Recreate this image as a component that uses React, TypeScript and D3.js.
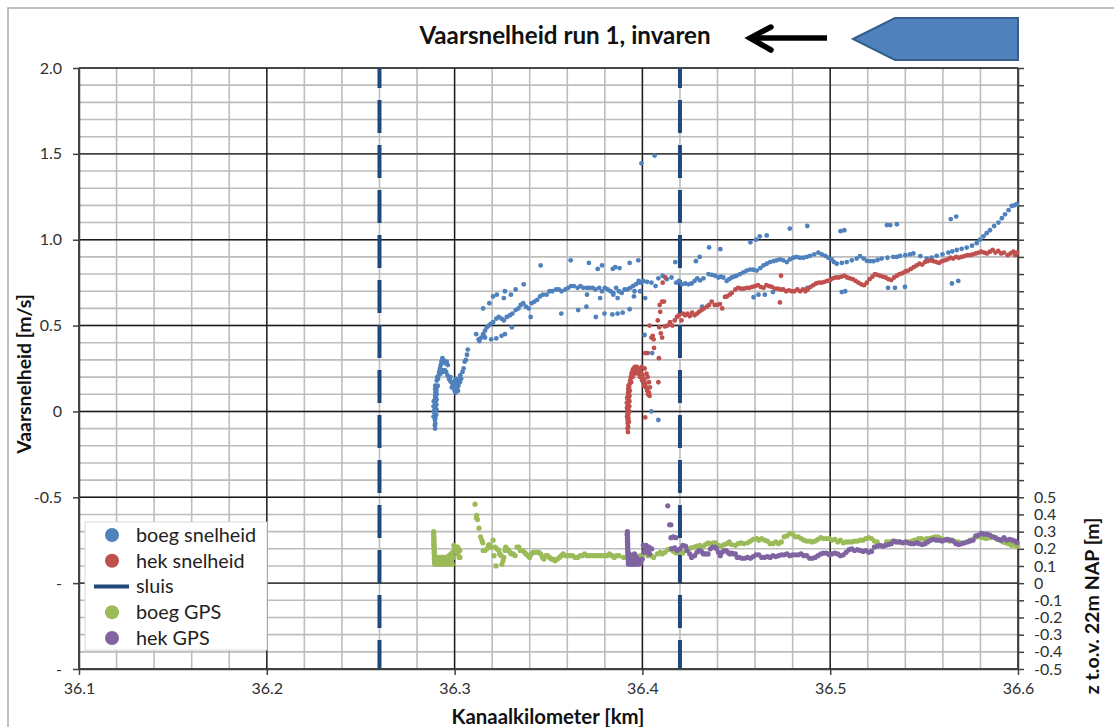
import { useEffect, useRef } from "react"
import * as d3 from "d3"

type Pt = [number, number]

const xTicks = [36.1, 36.2, 36.3, 36.4, 36.5, 36.6]
const leftLabels: [number, string][] = [[2, "2.0"], [1.5, "1.5"], [1, "1.0"], [0.5, "0.5"], [0, "0"], [-0.5, "-0.5"], [-1, "-"], [-1.5, "-"]]
const rightLabels = [0.5, 0.4, 0.3, 0.2, 0.1, 0, -0.1, -0.2, -0.3, -0.4, -0.5]
const sluis = [36.26, 36.42]
const legendItems = ["boeg snelheid", "hek snelheid", "sluis", "boeg GPS", "hek GPS"]

const boegSnelheid: Pt[] = [
  // start at the lock
  [36.2896,-0.1],[36.2895,-0.08],[36.2897,-0.07],[36.2895,-0.05],[36.2897,-0.04],[36.2894,-0.03],[36.2897,-0.02],[36.2895,-0.01],[36.2898,0],[36.2894,0.01],[36.2897,0.02],[36.2895,0.03],[36.2898,0.04],[36.2895,0.05],[36.2899,0.06],[36.2896,0.07],[36.29,0.08],[36.2897,0.09],[36.2901,0.1],[36.2898,0.11],[36.2903,0.12],[36.2896,0.13],[36.2905,0.14],[36.2897,0.15],[36.291,0.15],[36.2912,0.19],[36.2915,0.21],[36.2918,0.23],[36.2922,0.25],[36.2926,0.27],[36.293,0.29],[36.2935,0.31],[36.294,0.3],[36.2945,0.29],[36.295,0.28],[36.2958,0.29],[36.2964,0.27],[36.2925,0.22],[36.2932,0.24],[36.294,0.23],[36.2948,0.24],[36.2955,0.23],[36.2962,0.21],[36.297,0.19],[36.2975,0.18],[36.2982,0.17],[36.299,0.16],[36.2995,0.14],[36.3,0.12],[36.3005,0.11],[36.301,0.12],[36.3015,0.14],[36.3002,0.18],[36.3008,0.19],[36.3014,0.17],[36.302,0.15],[36.3024,0.19],[36.303,0.21],[36.3035,0.19],[36.3042,0.23],[36.3048,0.25],[36.3054,0.29],[36.306,0.3],[36.3066,0.33],[36.307,0.36],
  [36.2888,-0.03],[36.2889,0],[36.2888,0.03],[36.2889,0.06],[36.2904,0.01],[36.2903,0.04],[36.2904,0.07],[36.2904,0.1],[36.2902,-0.02],[36.2905,0.18],[36.2908,0.2],[36.2999,0.16],[36.3003,0.14],[36.3012,0.16],[36.2978,0.2],[36.2985,0.14],[36.3018,0.12],[36.3028,0.17],
  // rising chain
  [36.3128,0.42],[36.3142,0.43],[36.3152,0.45],[36.3162,0.47],[36.3172,0.49],[36.3182,0.5],[36.3192,0.51],[36.3205,0.52],[36.3222,0.54],[36.3235,0.55],[36.325,0.54],[36.3262,0.53],[36.3278,0.55],[36.3295,0.56],[36.3308,0.57],[36.3325,0.59],[36.334,0.6],[36.3352,0.62],[36.3365,0.63],[36.338,0.61],[36.3395,0.6],[36.341,0.63],[36.3425,0.64],[36.344,0.65],[36.3455,0.67],[36.347,0.68],[36.349,0.68],[36.3505,0.7],[36.352,0.7],[36.354,0.71],[36.3555,0.71],[36.357,0.7],[36.359,0.71],[36.3605,0.72],[36.362,0.73],[36.3635,0.73],[36.3655,0.72],[36.367,0.73],[36.3685,0.72],[36.3705,0.72],[36.372,0.72],[36.3735,0.72],[36.375,0.71],[36.377,0.72],[36.3785,0.7],[36.38,0.72],[36.3815,0.71],[36.383,0.7],[36.3845,0.69],[36.386,0.72],[36.3875,0.7],[36.389,0.69],[36.3905,0.71],[36.392,0.71],[36.3935,0.72],[36.395,0.73],[36.3965,0.74],[36.398,0.75],[36.3995,0.75],
  // upper and lower scatter
  [36.3152,0.6],[36.3185,0.63],[36.3205,0.67],[36.3225,0.68],[36.3262,0.66],[36.3268,0.7],[36.33,0.68],[36.3325,0.71],[36.3368,0.74],[36.3458,0.85],[36.3618,0.88],[36.3715,0.865],[36.3785,0.85],[36.3762,0.83],[36.3842,0.83],[36.3855,0.84],[36.3878,0.835],[36.3932,0.865],[36.3978,0.88],[36.3705,0.68],[36.3775,0.66],[36.3868,0.66],[36.3845,0.68],[36.3115,0.45],[36.3132,0.41],[36.3155,0.44],[36.3162,0.43],[36.3195,0.42],[36.3222,0.425],[36.325,0.44],[36.3268,0.45],[36.3305,0.49],[36.3405,0.55],[36.3568,0.57],[36.3658,0.59],[36.3702,0.61],[36.3752,0.55],[36.3798,0.57],[36.384,0.565],[36.3868,0.57],[36.3895,0.575],[36.3932,0.595],
  // around the second lock line
  [36.4005,0.76],[36.4025,0.755],[36.4048,0.75],[36.407,0.73],[36.4085,0.775],[36.4108,0.79],[36.413,0.77],[36.4155,0.78],[36.418,0.75],[36.4195,0.76],[36.421,0.74],[36.4228,0.745],[36.4245,0.74],[36.4262,0.745],[36.4278,0.76],[36.4292,0.775],[36.4307,0.763],[36.4325,0.775],[36.4352,0.8],[36.437,0.795],[36.4387,0.79],[36.4405,0.78],[36.4418,0.785],[36.4431,0.78],[36.4449,0.76],[36.4462,0.77],[36.4476,0.78],[36.4488,0.785],[36.4502,0.79],[36.452,0.8],[36.4538,0.81],[36.4555,0.82],[36.4573,0.826],[36.459,0.825],[36.4609,0.82],[36.4628,0.835],[36.4645,0.85],[36.4662,0.86],[36.468,0.87],[36.4698,0.875],[36.4715,0.88],[36.4733,0.885],[36.475,0.88],[36.4769,0.87],[36.4785,0.885],[36.4804,0.895],[36.482,0.9],[36.4838,0.895],[36.4857,0.895],[36.4875,0.9],[36.4893,0.906],[36.4915,0.915],[36.4937,0.925],[36.4955,0.915],[36.4973,0.906],[36.499,0.895],[36.5008,0.885],[36.502,0.87],[36.5035,0.86],[36.5062,0.865],[36.5088,0.87],[36.5115,0.88],[36.5141,0.89],[36.5159,0.904],[36.5178,0.89],[36.5195,0.877],[36.5212,0.875],[36.523,0.875],[36.5252,0.882],[36.5274,0.89],[36.5305,0.895],[36.5336,0.9],[36.5355,0.9],[36.5372,0.906],[36.54,0.91],[36.5425,0.915],[36.5443,0.92],[36.548,0.905],[36.5514,0.89],[36.554,0.895],[36.5567,0.906],[36.5598,0.915],[36.5629,0.925],[36.565,0.932],[36.5674,0.94],[36.57,0.947],[36.5727,0.954],[36.5755,0.965],[36.578,0.98],[36.5798,1.0],[36.5816,1.02],[36.5833,1.038],[36.5851,1.055],[36.5873,1.08],[36.5896,1.1],[36.5914,1.125],[36.5931,1.148],[36.595,1.172],[36.5967,1.197],[36.598,1.2],[36.5993,1.207],
  // outliers
  [36.3995,1.445],[36.4065,1.49],[36.4052,0.34],[36.4048,0],[36.4085,-0.05],[36.398,0.76],[36.3955,0.67],[36.3958,0.7],[36.3988,0.7],[36.4015,0.66],[36.4012,0.445],
  [36.4175,0.87],[36.4285,0.875],[36.4305,0.9],[36.4355,0.955],[36.4415,0.945],[36.4575,0.985],[36.4605,1.0],[36.4625,1.02],[36.4662,1.025],[36.4785,1.065],[36.4878,1.08],[36.5055,1.05],[36.5075,1.055],[36.5302,1.085],[36.532,1.085],[36.5355,1.09],[36.5642,1.12],[36.5671,1.135],
  [36.4592,0.665],[36.4618,0.68],[36.4652,0.68],[36.4695,0.695],[36.4878,0.72],[36.5062,0.695],[36.508,0.7],[36.5308,0.72],[36.5345,0.72],[36.5398,0.725],[36.5648,0.745],[36.5682,0.76],[36.4318,0.61],
]

const hekSnelheid: Pt[] = [
  [36.3923,-0.12],[36.3921,-0.1],[36.3924,-0.09],[36.3922,-0.07],[36.3924,-0.06],[36.3921,-0.05],[36.3925,-0.04],[36.3922,-0.03],[36.3924,-0.02],[36.3921,-0.01],[36.3925,0],[36.3922,0.01],[36.3925,0.02],[36.3922,0.03],[36.3925,0.04],[36.3923,0.05],[36.3926,0.06],[36.3923,0.07],[36.3926,0.08],[36.3924,0.09],[36.3927,0.1],[36.3924,0.11],[36.3928,0.12],[36.3925,0.13],[36.3929,0.14],[36.3926,0.15],[36.3932,0.16],[36.3935,0.18],[36.3938,0.2],[36.3942,0.22],[36.3946,0.23],[36.395,0.245],[36.3955,0.25],[36.396,0.26],[36.3965,0.255],[36.397,0.26],[36.3975,0.25],[36.398,0.24],[36.3985,0.245],[36.399,0.23],[36.3995,0.22],[36.4,0.21],[36.4005,0.19],[36.401,0.18],[36.4015,0.16],[36.402,0.14],[36.4025,0.12],[36.403,0.1],[36.4035,0.11],[36.4038,0.09],
  [36.3918,0.02],[36.3917,0.05],[36.3918,-0.03],[36.3919,0.08],[36.393,0.03],[36.3931,0.06],[36.3931,0.09],[36.3933,0.12],[36.393,0],[36.3928,-0.06],[36.394,0.17],[36.3948,0.2],[36.3958,0.22],[36.3968,0.235],[36.3978,0.22],[36.3988,0.2],[36.3998,0.18],[36.4008,0.15],
  [36.3996,0.26],[36.4012,0.25],[36.4022,0.22],[36.4028,0.2],[36.4035,0.17],[36.404,0.14],[36.4062,0.37],[36.4015,0.34],[36.4028,0.34],[36.4088,0.31],[36.4085,0.17],[36.4015,-0.035],
  // across the lock line
  [36.4082,0.53],[36.4095,0.58],[36.4092,0.62],[36.4105,0.64],[36.4038,0.5],[36.4048,0.43],[36.4055,0.44],[36.406,0.42],[36.4098,0.455],[36.4105,0.43],[36.409,0.49],[36.4108,0.75],[36.4122,0.78],[36.4115,0.64],[36.412,0.495],[36.4133,0.5],[36.4147,0.52],[36.416,0.5],[36.4172,0.53],[36.4184,0.55],[36.4195,0.56],[36.4208,0.53],[36.4216,0.57],[36.4227,0.56],[36.424,0.57],[36.4252,0.555],[36.4265,0.575],[36.4278,0.56],[36.4291,0.57],[36.4302,0.58],[36.4315,0.59],[36.4328,0.6],[36.4344,0.61],[36.4355,0.62],[36.4369,0.64],[36.4385,0.62],[36.4398,0.62],[36.4413,0.625],[36.4425,0.6],[36.444,0.667],[36.445,0.67],[36.4465,0.68],[36.4476,0.69],[36.4495,0.71],[36.451,0.72],[36.4525,0.715],[36.454,0.715],[36.4555,0.72],[36.457,0.72],[36.4585,0.725],[36.46,0.73],[36.4615,0.735],[36.463,0.725],[36.4645,0.72],[36.466,0.735],[36.4675,0.73],[36.469,0.725],[36.4705,0.715],[36.472,0.715],[36.4735,0.71],[36.475,0.71],[36.4765,0.7],[36.478,0.705],[36.4795,0.7],[36.481,0.7],[36.4825,0.71],[36.484,0.7],[36.4855,0.71],[36.4868,0.7],[36.488,0.71],[36.4895,0.725],[36.491,0.735],[36.4925,0.745],[36.494,0.75],[36.4955,0.75],[36.497,0.755],[36.4985,0.76],[36.5,0.765],[36.5015,0.775],[36.503,0.78],[36.5045,0.78],[36.506,0.785],[36.5075,0.79],[36.509,0.78],[36.5105,0.775],[36.512,0.77],[36.5135,0.76],[36.515,0.75],[36.5165,0.74],[36.518,0.735],[36.5195,0.75],[36.521,0.77],[36.5225,0.785],[36.5238,0.8],[36.525,0.795],[36.5265,0.79],[36.528,0.785],[36.5295,0.78],[36.531,0.77],[36.5325,0.765],[36.534,0.78],[36.5355,0.79],[36.537,0.8],[36.5385,0.805],[36.54,0.815],[36.5415,0.82],[36.543,0.83],[36.5445,0.84],[36.546,0.85],[36.5475,0.86],[36.549,0.855],[36.5505,0.87],[36.552,0.875],[36.5535,0.88],[36.555,0.875],[36.5565,0.87],[36.558,0.865],[36.5595,0.875],[36.561,0.88],[36.5625,0.885],[36.564,0.895],[36.5655,0.89],[36.567,0.9],[36.5685,0.895],[36.57,0.9],[36.5715,0.905],[36.573,0.91],[36.5745,0.91],[36.576,0.915],[36.5775,0.92],[36.579,0.925],[36.5805,0.93],[36.582,0.925],[36.5835,0.92],[36.585,0.93],[36.5865,0.94],[36.588,0.925],[36.5895,0.935],[36.591,0.92],[36.5925,0.925],
  [36.5945,0.91],[36.596,0.92],[36.5975,0.93],[36.5985,0.91],[36.5995,0.925],
  // outliers
  [36.4738,0.79],[36.4732,0.635],
]

const boegGPS: Pt[] = [
  [36.2889,0.3],[36.2889,0.29],[36.2888,0.28],[36.289,0.27],[36.2889,0.26],[36.289,0.25],[36.2889,0.24],[36.2891,0.23],[36.2889,0.22],[36.2892,0.21],[36.289,0.2],[36.2892,0.19],[36.2891,0.18],[36.2893,0.17],[36.2892,0.16],[36.2894,0.15],[36.2892,0.14],[36.2894,0.13],[36.2893,0.12],[36.2895,0.11],[36.2898,0.15],[36.29,0.12],[36.2903,0.14],[36.2905,0.11],[36.2908,0.15],[36.291,0.12],[36.2913,0.13],[36.2915,0.11],[36.2918,0.15],[36.292,0.12],[36.2923,0.14],[36.2925,0.11],[36.2928,0.15],[36.293,0.12],[36.2933,0.14],[36.2935,0.11],[36.2938,0.15],[36.294,0.12],[36.2943,0.13],[36.2946,0.11],[36.2949,0.15],[36.2952,0.12],[36.2955,0.14],[36.2958,0.11],[36.296,0.15],[36.2963,0.12],[36.2965,0.14],[36.2968,0.11],[36.297,0.16],[36.2973,0.12],[36.2975,0.15],[36.2978,0.11],[36.298,0.17],[36.2982,0.13],[36.2985,0.16],[36.2988,0.11],[36.299,0.18],[36.2993,0.15],[36.2996,0.22],[36.2998,0.2],[36.3,0.21],[36.3003,0.19],[36.3006,0.21],[36.3009,0.2],[36.3012,0.18],[36.3016,0.21],[36.3018,0.17],[36.302,0.2],[36.3024,0.15],[36.3029,0.15],[36.3028,0.19],
  [36.3109,0.46],[36.3118,0.395],[36.3116,0.38],[36.3122,0.37],[36.313,0.32],[36.3138,0.27],[36.3145,0.25],[36.315,0.235],[36.3152,0.19],[36.3162,0.19],[36.3172,0.2],[36.318,0.22],[36.3185,0.225],[36.3195,0.21],[36.3205,0.25],[36.321,0.16],[36.3215,0.21],[36.322,0.1],[36.3225,0.2],[36.3235,0.19],[36.324,0.17],[36.3248,0.16],[36.3252,0.11],[36.3258,0.13],[36.3262,0.15],[36.3268,0.19],[36.3272,0.21],[36.328,0.2],[36.3288,0.19],[36.3295,0.18],[36.3302,0.17],[36.3312,0.17],[36.3322,0.16],[36.3332,0.21],[36.3342,0.21],[36.335,0.19],[36.3362,0.19],[36.3372,0.18],[36.338,0.17],[36.339,0.16],[36.34,0.15],[36.3408,0.17],[36.3418,0.18],[36.3428,0.18],[36.3438,0.18],[36.3448,0.18],[36.3458,0.17],[36.3468,0.15],[36.3475,0.14],[36.3485,0.16],[36.3495,0.16],[36.3505,0.15],[36.3515,0.14],[36.3525,0.14],[36.3535,0.13],[36.3548,0.14],[36.3558,0.15],[36.3568,0.16],[36.3578,0.17],[36.3592,0.16],[36.3602,0.16],[36.3615,0.16],[36.3628,0.16],[36.3642,0.15],[36.3655,0.15],[36.3668,0.16],[36.368,0.16],[36.3692,0.17],[36.3705,0.16],[36.3718,0.16],[36.3732,0.16],[36.3745,0.16],[36.3758,0.16],[36.3772,0.16],[36.3785,0.16],[36.38,0.16],[36.3812,0.16],[36.3825,0.17],[36.3838,0.16],[36.385,0.15],[36.3862,0.16],[36.3875,0.16],[36.39,0.15],[36.3965,0.16],[36.399,0.16],[36.4015,0.17],[36.403,0.16],[36.4048,0.16],[36.406,0.15],[36.408,0.17],[36.4095,0.18],[36.4105,0.17],[36.412,0.18],[36.4135,0.195],[36.415,0.2],[36.4165,0.185],[36.418,0.175],[36.4195,0.18],[36.4215,0.175],[36.423,0.19],[36.4245,0.2],[36.426,0.205],[36.4275,0.21],[36.429,0.215],[36.4307,0.22],[36.4322,0.21],[36.4335,0.225],[36.435,0.235],[36.4362,0.23],[36.4378,0.235],[36.439,0.235],[36.4405,0.22],[36.442,0.215],[36.4435,0.225],[36.445,0.23],[36.4462,0.24],[36.4475,0.225],[36.4495,0.22],[36.451,0.23],[36.4525,0.235],[36.454,0.23],[36.456,0.235],[36.4575,0.245],[36.459,0.255],[36.461,0.26],[36.462,0.25],[36.4635,0.26],[36.465,0.25],[36.4665,0.245],[36.468,0.23],[36.4695,0.23],[36.471,0.24],[36.4725,0.23],[36.474,0.24],[36.4755,0.27],[36.477,0.275],[36.4785,0.29],[36.48,0.285],[36.4815,0.27],[36.483,0.27],[36.4845,0.26],[36.486,0.25],[36.4875,0.245],[36.489,0.245],[36.4905,0.24],[36.492,0.245],[36.4935,0.255],[36.495,0.265],[36.4965,0.26],[36.498,0.26],[36.4995,0.26],[36.501,0.25],[36.5025,0.255],[36.504,0.24],[36.5055,0.25],[36.507,0.235],[36.5085,0.24],[36.51,0.24],[36.5115,0.24],[36.513,0.245],[36.5145,0.245],[36.516,0.25],[36.5175,0.25],[36.519,0.26],[36.5205,0.265],[36.522,0.26],[36.5235,0.245],[36.525,0.24],[36.53,0.24],[36.5315,0.24],[36.533,0.245],[36.535,0.24],[36.537,0.24],[36.5395,0.235],[36.5415,0.24],[36.5435,0.245],[36.545,0.25],[36.547,0.26],[36.5485,0.26],[36.55,0.255],[36.5515,0.26],[36.553,0.26],[36.5545,0.265],[36.556,0.27],[36.5575,0.27],[36.559,0.26],[36.5605,0.255],[36.562,0.255],[36.5635,0.245],[36.565,0.25],[36.5665,0.24],[36.568,0.24],[36.57,0.235],[36.5975,0.24],[36.5965,0.22],
  [36.5745,0.25],[36.5765,0.26],[36.5785,0.27],[36.581,0.265],[36.583,0.26],[36.585,0.265],[36.587,0.27],[36.5888,0.255],[36.5905,0.25],[36.592,0.24],[36.5935,0.235],[36.595,0.23],[36.5962,0.225],[36.5985,0.22],[36.5998,0.215],
]

const hekGPS: Pt[] = [
  [36.392,0.3],[36.392,0.29],[36.3919,0.28],[36.3921,0.27],[36.392,0.26],[36.3921,0.25],[36.392,0.24],[36.3922,0.23],[36.3921,0.22],[36.3922,0.21],[36.3921,0.2],[36.3923,0.19],[36.3922,0.18],[36.3924,0.17],[36.3923,0.16],[36.3925,0.15],[36.3924,0.14],[36.3926,0.13],[36.3925,0.12],[36.3926,0.11],[36.393,0.17],[36.3932,0.12],[36.3935,0.15],[36.3938,0.11],[36.394,0.13],[36.3943,0.16],[36.3945,0.12],[36.3948,0.11],[36.395,0.15],[36.3953,0.13],[36.3955,0.11],[36.3958,0.17],[36.396,0.13],[36.3963,0.12],[36.3965,0.11],[36.3968,0.15],[36.397,0.12],[36.3975,0.14],[36.398,0.11],[36.3985,0.13],[36.3992,0.12],[36.4,0.14],[36.4005,0.22],[36.4008,0.18],[36.401,0.215],[36.4015,0.19],[36.402,0.22],[36.4025,0.2],[36.403,0.18],[36.4035,0.21],[36.4038,0.17],[36.4042,0.2],[36.405,0.2],
  [36.4135,0.45],[36.4152,0.34],[36.4145,0.34],[36.4152,0.265],[36.4165,0.27],[36.4178,0.265],[36.4155,0.2],[36.4172,0.205],[36.4185,0.19],[36.42,0.2],[36.4215,0.22],[36.423,0.215],[36.4238,0.19],[36.4252,0.17],[36.4262,0.15],[36.4278,0.16],[36.429,0.18],[36.43,0.19],
  [36.4307,0.19],[36.4318,0.18],[36.4325,0.17],[36.4338,0.17],[36.435,0.17],[36.4362,0.2],[36.4375,0.21],[36.4388,0.21],[36.4395,0.2],[36.4405,0.18],[36.4415,0.16],[36.4425,0.18],[36.4435,0.19],[36.4445,0.19],[36.4455,0.18],[36.4465,0.17],[36.4475,0.175],[36.4485,0.17],[36.4495,0.17],[36.4505,0.15],[36.4515,0.15],[36.453,0.145],[36.4545,0.145],[36.456,0.15],[36.4575,0.145],[36.459,0.155],[36.4605,0.165],[36.462,0.165],[36.4635,0.15],[36.465,0.15],[36.4665,0.155],[36.468,0.15],[36.4695,0.16],[36.471,0.155],[36.4725,0.16],[36.474,0.165],[36.4755,0.165],[36.477,0.17],[36.4785,0.16],[36.48,0.165],[36.4815,0.165],[36.483,0.165],[36.4845,0.17],[36.486,0.16],[36.4875,0.16],[36.489,0.145],[36.4905,0.145],[36.492,0.15],[36.4935,0.16],[36.495,0.17],[36.4965,0.175],[36.498,0.175],[36.4995,0.165],[36.501,0.17],[36.5025,0.175],[36.504,0.17],[36.5055,0.16],[36.507,0.165],[36.5085,0.18],[36.51,0.195],[36.5115,0.2],[36.513,0.19],[36.5145,0.195],[36.516,0.19],[36.5175,0.185],[36.519,0.19],[36.5205,0.18],[36.522,0.185],[36.5235,0.21],[36.525,0.215],[36.5265,0.22],[36.528,0.215],[36.5295,0.22],[36.531,0.225],[36.5325,0.23],[36.534,0.245],[36.5355,0.24],[36.537,0.24],[36.5385,0.235],[36.54,0.24],[36.5415,0.235],[36.543,0.23],[36.5445,0.23],[36.546,0.235],[36.5475,0.23],[36.549,0.225],[36.5505,0.23],[36.552,0.24],[36.5535,0.25],[36.555,0.255],[36.5565,0.25],[36.558,0.25],[36.5595,0.245],[36.561,0.25],[36.5625,0.255],[36.564,0.25],[36.5655,0.245],[36.567,0.23],[36.5685,0.225],[36.57,0.23],[36.5715,0.235],[36.573,0.24],[36.5745,0.245],[36.576,0.25],[36.5775,0.275],[36.579,0.28],[36.5805,0.29],[36.582,0.285],[36.5835,0.285],[36.585,0.28],[36.5865,0.27],[36.588,0.265],[36.5895,0.255],[36.591,0.25],[36.5925,0.265],[36.594,0.25],[36.5955,0.255],[36.597,0.25],[36.5985,0.245],[36.5995,0.235],
]

const colors = { boeg: "#4f81bd", hek: "#c0504d", sluis: "#1f497d", boegGps: "#9bbb59", hekGps: "#8064a2" }
const font = "Lato, 'Open Sans', sans-serif"

export default function App() {
  const svgRef = useRef<SVGSVGElement>(null)

  useEffect(() => {
    if (!svgRef.current) return
    const svg = d3.select(svgRef.current)
    svg.selectAll("*").remove()

    const left = 79, right = 1018, top = 68, bottom = 669
    const x = d3.scaleLinear().domain([36.1, 36.6]).range([left, right])
    const y = d3.scaleLinear().domain([-1.5, 2]).range([bottom, top])
    const yGps = d3.scaleLinear().domain([-0.5, 3]).range([bottom, top])

    // outer frame
    svg.append("path").attr("d", "M8,727V8H1114").attr("fill", "none").attr("stroke", "#aaa").attr("stroke-width", 1.5)

    // minor grid
    const minorX = d3.range(0, 26).map(i => 36.1 + i * 0.02)
    const minorY = d3.range(0, 36).map(i => -1.5 + i * 0.1)
    const grid = svg.append("g")
    grid.selectAll("line.vx").data(minorX).enter().append("line")
      .attr("x1", d => x(d)).attr("x2", d => x(d)).attr("y1", top).attr("y2", bottom)
      .attr("stroke", "#bdbdbd").attr("stroke-width", 1.6)
    grid.selectAll("line.hy").data(minorY).enter().append("line")
      .attr("x1", left).attr("x2", right).attr("y1", d => y(d)).attr("y2", d => y(d))
      .attr("stroke", "#bdbdbd").attr("stroke-width", 1.6)

    // major grid
    grid.selectAll("line.mx").data(xTicks).enter().append("line")
      .attr("x1", d => x(d)).attr("x2", d => x(d)).attr("y1", top).attr("y2", bottom)
      .attr("stroke", "#1a1a1a").attr("stroke-width", 1.4)
    grid.selectAll("line.my").data(leftLabels.map(d => d[0])).enter().append("line")
      .attr("x1", left).attr("x2", right).attr("y1", d => y(d)).attr("y2", d => y(d))
      .attr("stroke", "#1a1a1a").attr("stroke-width", 1.4)

    // lock lines
    svg.selectAll("line.sluis").data(sluis).enter().append("line")
      .attr("x1", d => x(d)).attr("x2", d => x(d)).attr("y1", top).attr("y2", bottom)
      .attr("stroke", colors.sluis).attr("stroke-width", 4)
      .attr("stroke-dasharray", "33 12").attr("stroke-dashoffset", 13)

    // Axes
    const styleAxis = (g: any) => {
      g.selectAll("path").attr("stroke", "#404040").attr("stroke-width", 1.5)
      g.selectAll("line").attr("stroke", "#404040").attr("stroke-width", 1.5)
      g.selectAll("text").attr("fill", "#303030").attr("font-family", font).attr("font-size", 16)
    }
    svg.append("g").attr("transform", `translate(0,${bottom})`)
      .call(d3.axisBottom(x).tickValues(xTicks).tickFormat(d => (d as number).toFixed(1)).tickSize(6).tickSizeOuter(0))
      .call(styleAxis).selectAll("text").attr("dy", "1.1em").attr("y", 7)
    svg.append("g").attr("transform", `translate(${left},0)`)
      .call(d3.axisLeft(y).tickValues(leftLabels.map(d => d[0])).tickFormat((_, i) => leftLabels[i][1]).tickSize(6).tickSizeOuter(0))
      .call(styleAxis).selectAll("text").attr("x", -17)
    const rightAxis = svg.append("g").attr("transform", `translate(${right},0)`)
      .call(d3.axisRight(yGps).tickValues(d3.range(0, 36).map(i => -0.5 + i * 0.1)).tickFormat(() => "").tickSize(6).tickSizeOuter(0))
      .call(styleAxis)
    rightAxis.selectAll("text.lab").data(rightLabels).enter().append("text").attr("class", "lab")
      .attr("x", 16).attr("y", d => yGps(d)).attr("dy", "0.35em")
      .attr("fill", "#303030").attr("font-family", font).attr("font-size", 16)
      .text(d => String(d))

    // Points
    const drawPoints = (data: Pt[], sy: d3.ScaleLinear<number, number>, color: string, r: number) => {
      svg.append("g").selectAll("circle").data(data).enter().append("circle")
        .attr("cx", d => x(d[0])).attr("cy", d => sy(d[1])).attr("r", r).attr("fill", color)
    }
    drawPoints(boegSnelheid, y, colors.boeg, 2.4)
    drawPoints(hekSnelheid, y, colors.hek, 2.4)
    drawPoints(boegGPS, yGps, colors.boegGps, 2.6)
    drawPoints(hekGPS, yGps, colors.hekGps, 2.6)

    // Legend
    const legend = svg.append("g")
    legend.append("rect").attr("x", 85).attr("y", 522).attr("width", 182).attr("height", 128)
      .attr("fill", "#fff").attr("stroke", "#d9d9d9")
    const legendY = d3.scalePoint<string>().domain(legendItems).range([535, 638])
    const legendColors = [colors.boeg, colors.hek, colors.sluis, colors.boegGps, colors.hekGps]
    legendItems.forEach((name, i) => {
      if (name === "sluis") {
        legend.append("line").attr("x1", 94).attr("x2", 129).attr("y1", legendY(name)!).attr("y2", legendY(name)!)
          .attr("stroke", legendColors[i]).attr("stroke-width", 4)
      } else {
        legend.append("circle").attr("cx", 112).attr("cy", legendY(name)!).attr("r", 7).attr("fill", legendColors[i])
      }
      legend.append("text").attr("x", 136).attr("y", legendY(name)!).attr("dy", "0.35em")
        .attr("font-family", font).attr("font-size", 19.8).attr("fill", "#222").text(name)
    })

    // Titles
    const bold = (tx: number, ty: number, size: number, s: string, rot = 0) =>
      svg.append("text").attr("transform", `translate(${tx},${ty}) rotate(${rot})`)
        .attr("text-anchor", "middle").attr("font-family", font).attr("font-weight", 700)
        .attr("font-size", size).attr("fill", "#111").text(s)
    bold(565, 44, 24.2, "Vaarsnelheid run 1, invaren")
    bold(548, 724, 20.4, "Kanaalkilometer [km]")
    bold(31, 374, 19.4, "Vaarsnelheid [m/s]", -90)
    bold(1099, 606, 19.6, "z t.o.v. 22m NAP [m]", -90)

    // Direction arrow and ship
    svg.append("path").attr("d", "M827,38H752").attr("stroke", "#000").attr("stroke-width", 5.5).attr("fill", "none")
    svg.append("path").attr("d", "M771,27L750,38L771,50").attr("stroke", "#000").attr("stroke-width", 5.5)
      .attr("fill", "none").attr("stroke-linecap", "round").attr("stroke-linejoin", "miter")
    svg.append("path").attr("d", "M853,39L895,18H1018V60H895Z").attr("fill", colors.boeg).attr("stroke", "#385d8a").attr("stroke-width", 2)
  }, [])

  return (
    <svg
      ref={svgRef}
      width={1114}
      height={727}
      style={{ position: "absolute", left: 0, top: 0, background: "#fff" }}
      xmlns="http://www.w3.org/2000/svg"
    ></svg>
  )
}
